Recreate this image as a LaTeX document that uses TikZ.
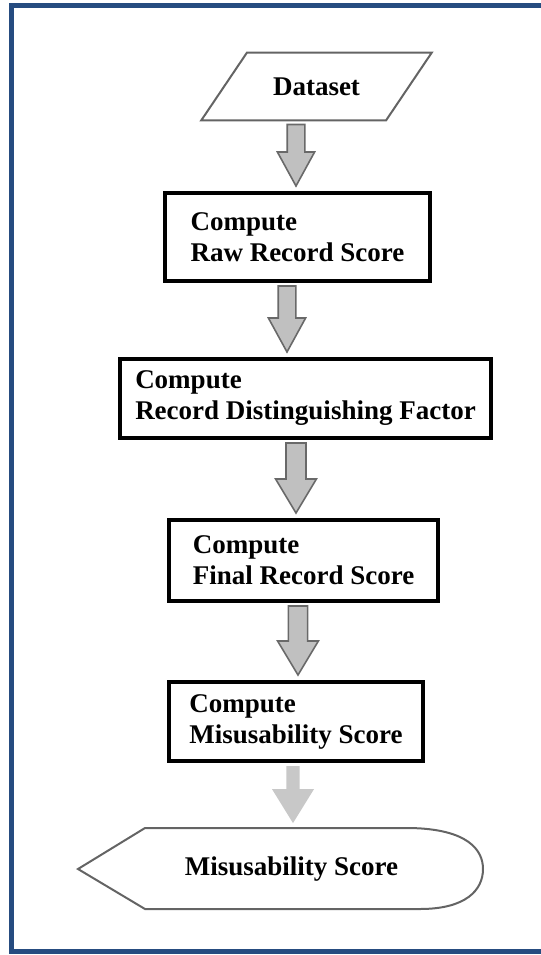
\documentclass[tikz,border=0pt]{standalone}
\usepackage{fontspec}
\setmainfont{Liberation Serif}
\usepackage{tikz}
\usetikzlibrary{calc,shapes.geometric}
\definecolor{framebl}{RGB}{38,76,128}
\definecolor{arrowfill}{RGB}{192,192,192}
\definecolor{arrowline}{RGB}{105,105,105}
\definecolor{arrowlight}{RGB}{200,200,200}
\definecolor{shapeline}{RGB}{100,100,100}
\tikzset{
  stepbox/.style={draw,line width=2pt,align=left,inner sep=0pt,font=\bfseries\fontsize{13.5}{15.5}\selectfont},
  iobox/.style={font=\bfseries\fontsize{13.5}{15.5}\selectfont},
  blockarrow/.style={fill=arrowfill,draw=arrowline,line width=0.8pt,line join=miter},
  lightarrow/.style={fill=arrowlight,draw=none},
}
% #1 style, #2 x, #3 half shaft, #4 half head, #5 from, #6 to
\newcommand{\blockarrow}[6]{\path[#1] let \p1=(#2,0), \p2=(#5.south), \p3=(#6.north) in
  (\x1-#3,\y2-1.5pt) -- (\x1+#3,\y2-1.5pt) -- (\x1+#3,\y3+19.5pt) -- (\x1+#4,\y3+19.5pt)
  -- (\x1,\y3+2.5pt) -- (\x1-#4,\y3+19.5pt) -- (\x1-#3,\y3+19.5pt) -- cycle;}

\begin{document}
\begin{tikzpicture}[x=0.5pt,y=-0.5pt]
\useasboundingbox (0,0) rectangle (541,955);
\draw[framebl,line width=2.5pt] (600,5.5) -- (11.5,5.5) -- (11.5,951.5) -- (600,951.5);
\node[iobox,trapezium,trapezium left angle=56,trapezium right angle=124,trapezium stretches body,
  draw=shapeline,line width=1pt,inner xsep=13pt,inner ysep=12.5pt] (data) at (316.5,86.5) {Dataset};
\node[stepbox,minimum width=132.5pt,minimum height=44pt] (raw) at (297.5,237) {Compute\\Raw Record Score};
\node[stepbox,minimum width=185.5pt,minimum height=39.5pt] (rdf) at (305.5,398.5) {Compute\\Record Distinguishing Factor};
\node[stepbox,minimum width=134.5pt,minimum height=40.5pt] (final) at (303.5,560.5) {Compute\\Final Record Score};
\node[stepbox,minimum width=127pt,minimum height=39.5pt] (misuse) at (296,721.5) {Compute\\Misusability Score};
\node[iobox,minimum height=40.5pt,inner sep=0pt] (score) at (291.5,869) {Misusability Score};
\draw[shapeline,line width=1pt] (78,869) -- (145,828) -- (410,828)
  .. controls (468,829) and (483,850) .. (483,869)
  .. controls (483,890) and (466,909) .. (420,909) -- (145,909) -- cycle;
\blockarrow{blockarrow}{296}{4.4pt}{9.3pt}{data}{raw}
\blockarrow{blockarrow}{287}{4.4pt}{9.3pt}{raw}{rdf}
\blockarrow{blockarrow}{296}{5pt}{10.2pt}{rdf}{final}
\blockarrow{blockarrow}{298}{4.8pt}{10.2pt}{final}{misuse}
\blockarrow{lightarrow}{293}{3.3pt}{10.5pt}{misuse}{score}
\end{tikzpicture}
\end{document}
